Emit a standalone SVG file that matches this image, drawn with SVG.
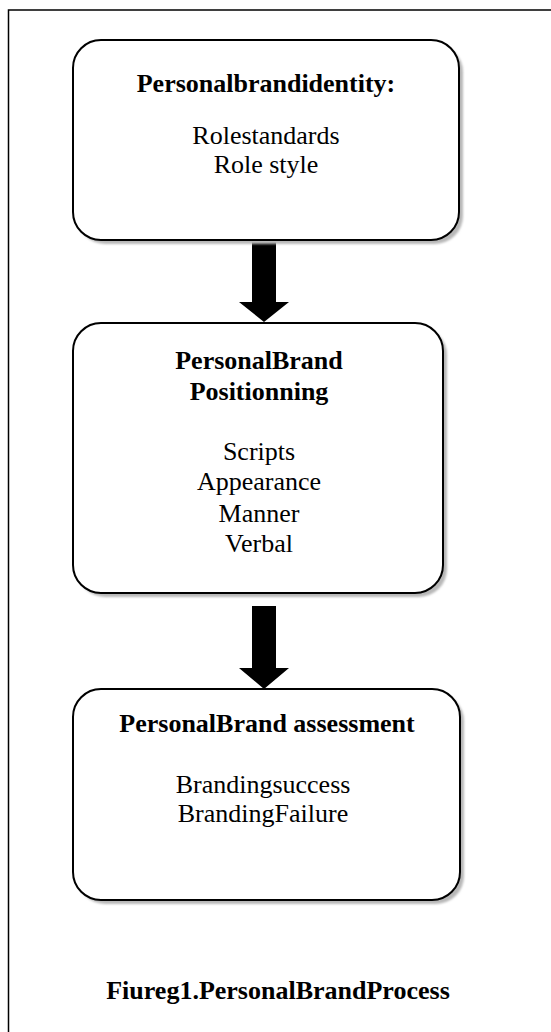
<svg xmlns="http://www.w3.org/2000/svg" width="551" height="1032" viewBox="0 0 551 1032">
<style>
.box{fill:#ffffff;stroke:#000000;stroke-width:2}
.shadow{fill:#b8b8b8}
.t{font-family:"Liberation Serif","Times New Roman",serif;font-size:26px;fill:#000000;text-anchor:middle}
.b{font-weight:bold}
.arrow{fill:#000000;stroke:none}
.frame{stroke:#000000;stroke-width:1.5;fill:none}
</style>
<defs>
<filter id="blur" x="-5%" y="-5%" width="110%" height="110%">
<feGaussianBlur stdDeviation="1"/>
</filter>
</defs>
<rect x="0" y="0" width="551" height="1032" fill="#ffffff"/>
<g id="frame">
<path class="frame" d="M8.5,1032 L8.5,10 L551,10"/>
</g>
<g id="connectors">
<polygon class="arrow" points="252,240 276,240 276,302 289,302 264,322 239,302 252,302"/>
<polygon class="arrow" points="252,606 276,606 276,668 289,668 264,689 239,668 252,668"/>
</g>
<g id="node1">
<rect class="shadow" x="77" y="44" width="386" height="200" rx="28" ry="28" filter="url(#blur)"/>
<rect class="box" x="73" y="40" width="386" height="200" rx="28" ry="28"/>
<text class="t b" x="266" y="92">Personalbrandidentity:</text>
<text class="t" x="266" y="144">Rolestandards</text>
<text class="t" x="266" y="173">Role style</text>
</g>
<g id="node2">
<rect class="shadow" x="77" y="327" width="370" height="270" rx="28" ry="28" filter="url(#blur)"/>
<rect class="box" x="73" y="323" width="370" height="270" rx="28" ry="28"/>
<text class="t b" x="259" y="369">PersonalBrand</text>
<text class="t b" x="259" y="400">Positionning</text>
<text class="t" x="259" y="460">Scripts</text>
<text class="t" x="259" y="490">Appearance</text>
<text class="t" x="259" y="522">Manner</text>
<text class="t" x="259" y="552">Verbal</text>
</g>
<g id="node3">
<rect class="shadow" x="77" y="693" width="387" height="211" rx="28" ry="28" filter="url(#blur)"/>
<rect class="box" x="73" y="689" width="387" height="211" rx="28" ry="28"/>
<text class="t b" x="267" y="732">PersonalBrand assessment</text>
<text class="t" x="263" y="793">Brandingsuccess</text>
<text class="t" x="263" y="822">BrandingFailure</text>
</g>
<g id="caption">
<text class="t b" x="278" y="999">Fiureg1.PersonalBrandProcess</text>
</g>
</svg>
